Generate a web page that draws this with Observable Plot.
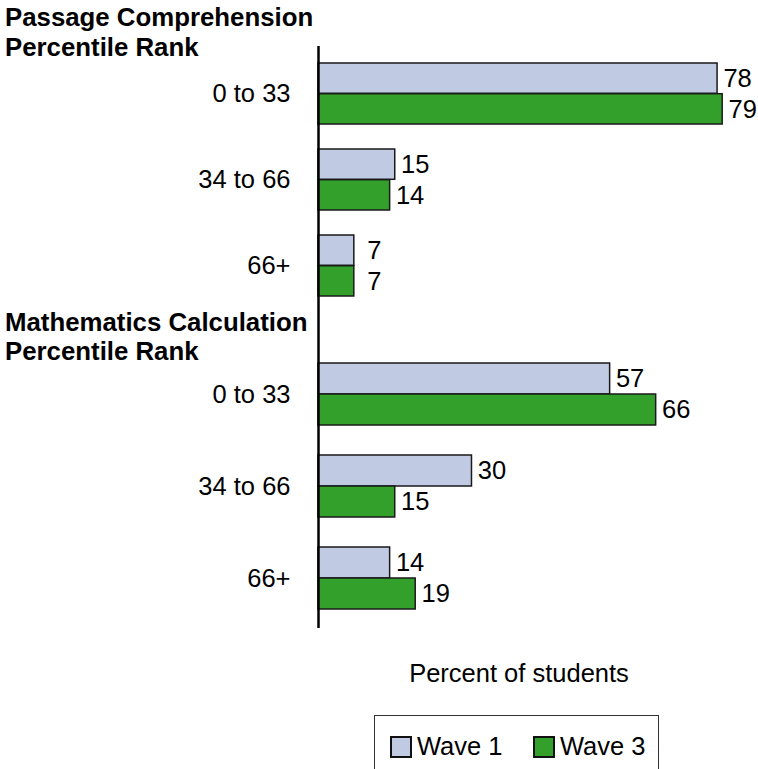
<!DOCTYPE html>
<html>
<head>
<meta charset="utf-8">
<script src="https://cdn.jsdelivr.net/npm/d3@7"></script>
<script src="https://cdn.jsdelivr.net/npm/@observablehq/plot@0.6"></script>
<style>
  html, body { margin: 0; padding: 0; background: #fff; }
  #root { position: relative; width: 758px; height: 769px; overflow: hidden; font-family: "Liberation Sans", Arial, sans-serif; color: #000; }
  .abs { position: absolute; }
  .hdr { font-weight: bold; font-size: 25.8px; line-height: 30px; left: 5px; white-space: nowrap; }
  .xlab { font-size: 25.5px; left: 519px; transform: translateX(-50%); white-space: nowrap; }
  .legend { left: 374px; top: 715px; width: 285px; height: 80px; border: 1px solid #333; box-sizing: border-box; }
  .item { position: absolute; top: 16px; display: flex; align-items: center; font-size: 25.5px; white-space: nowrap; }
  .sw { width: 18px; height: 18px; border: 2px solid #111; margin-right: 5px; }
</style>
</head>
<body>
<div id="root"></div>
<script>
const categories = ["0 to 33", "34 to 66", "66+"];
const sectionTitles = ["Passage Comprehension", "Percentile Rank", "Mathematics Calculation", "Percentile Rank"];
const seriesNames = ["Wave 1", "Wave 3"];
const passageWave1 = [78, 15, 7];
const passageWave3 = [79, 14, 7];
const mathWave1 = [57, 30, 14];
const mathWave3 = [66, 15, 19];
const xTitle = "Percent of students";

const colors = ["#c0cae3", "#33a02c"];

function makePlot(w1, w3, o) {
  const rows = categories.map((c, i) => ({cat: c, w1: w1[i], w3: w3[i]}));
  return Plot.plot({
    width: 758,
    height: o.height,
    marginLeft: 318,
    marginRight: 0,
    marginTop: o.mt,
    marginBottom: 0,
    style: {fontFamily: "Liberation Sans, Arial, sans-serif", fontSize: "25.5px", color: "#000", background: "transparent", overflow: "visible"},
    x: {domain: [0, 86], axis: null},
    y: {domain: categories, range: o.yRange, padding: o.pad, label: null, tickSize: 0, tickPadding: 28},
    marks: [
      Plot.barX(rows, {x: "w1", y: "cat", fill: colors[0], stroke: "#1a1a1a", strokeWidth: 1.5, insetBottom: o.half}),
      Plot.barX(rows, {x: "w3", y: "cat", fill: colors[1], stroke: "#1a1a1a", strokeWidth: 1.5, insetTop: o.half}),
      Plot.text(rows, {x: "w1", y: "cat", text: d => String(d.w1), dx: 20, dy: -o.half / 2, fontSize: 25.5, fill: "#000"}),
      Plot.text(rows, {x: "w3", y: "cat", text: d => String(d.w3), dx: 20, dy: o.half / 2, fontSize: 25.5, fill: "#000"}),
      Plot.ruleX([0], {stroke: "#000", strokeWidth: 2.5})
    ]
  });
}

const root = document.getElementById("root");

const plotA = makePlot(passageWave1, passageWave3, {height: 308, mt: 46, yRange: [37.5, 322.1], pad: 0.29, half: 30.7});
const divA = document.createElement("div");
divA.className = "abs"; divA.style.left = "0px"; divA.style.top = "0px";
divA.appendChild(plotA);
root.appendChild(divA);

const plotB = makePlot(mathWave1, mathWave3, {height: 320, mt: 0, yRange: [25.3, 331.3], pad: 0.326, half: 31});
const divB = document.createElement("div");
divB.className = "abs"; divB.style.left = "0px"; divB.style.top = "308px";
divB.appendChild(plotB);
root.appendChild(divB);

function header(lines, top, lh) {
  const d = document.createElement("div");
  d.className = "abs hdr";
  d.style.top = top + "px";
  d.style.lineHeight = lh + "px";
  d.innerHTML = lines.join("<br>");
  root.appendChild(d);
}
header(sectionTitles.slice(0, 2), 1.5, 30);
header(sectionTitles.slice(2, 4), 307.5, 29.5);

const xl = document.createElement("div");
xl.className = "abs xlab";
xl.style.top = "659px";
xl.textContent = xTitle;
root.appendChild(xl);

const lg = document.createElement("div");
lg.className = "abs legend";
const lefts = [15, 158];
seriesNames.forEach((n, i) => {
  const it = document.createElement("div");
  it.className = "item";
  it.style.left = lefts[i] + "px";
  const sw = document.createElement("div");
  sw.className = "sw";
  sw.style.background = colors[i];
  const t = document.createElement("span");
  t.textContent = n;
  it.appendChild(sw); it.appendChild(t);
  lg.appendChild(it);
});
root.appendChild(lg);
</script>
</body>
</html>
